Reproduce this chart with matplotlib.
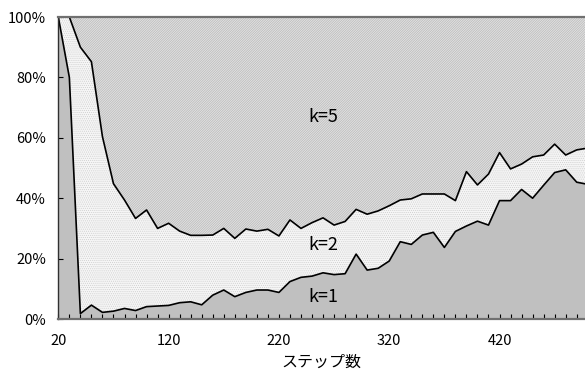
import matplotlib.pyplot as plt
import numpy as np
from matplotlib.ticker import MultipleLocator, PercentFormatter

plt.rcParams['font.family'] = ['Noto Sans CJK JP', 'DejaVu Sans']

# share of each k per step (%)
steps = list(range(20, 501, 10))
k1 = [100, 80, 1.8, 4.6, 2.2, 2.6, 3.5, 2.8, 4.1, 4.3,
      4.5, 5.4, 5.7, 4.7, 7.9, 9.6, 7.4, 8.8, 9.6, 9.6,
      8.8, 12.4, 13.8, 14.2, 15.3, 14.7, 15.0, 21.5, 16.2, 16.8,
      19.2, 25.6, 24.7, 27.8, 28.7, 23.7, 29.0, 30.8, 32.4, 31.1,
      39.2, 39.2, 42.9, 40.0, 44.3, 48.5, 49.4, 45.3, 44.6]
k2 = [0, 20, 88.2, 80.6, 58.2, 42.2, 35.9, 30.5, 32.0, 25.7,
      27.2, 23.7, 22.0, 23.0, 19.9, 20.4, 19.3, 21.0, 19.5, 20.1,
      18.7, 20.4, 16.2, 17.7, 18.2, 16.4, 17.3, 14.8, 18.5, 19.0,
      18.3, 13.8, 15.1, 13.6, 12.7, 17.7, 10.2, 18.0, 12.0, 16.9,
      15.9, 10.5, 8.4, 13.7, 10.0, 9.4, 4.9, 10.7, 12.0]
k5 = [0, 0, 10.0, 14.8, 39.6, 55.2, 60.6, 66.7, 63.9, 70.0,
      68.3, 70.9, 72.3, 72.3, 72.2, 70.0, 73.3, 70.2, 70.9, 70.3,
      72.5, 67.2, 70.0, 68.1, 66.5, 68.9, 67.7, 63.7, 65.3, 64.2,
      62.5, 60.6, 60.2, 58.6, 58.6, 58.6, 60.8, 51.2, 55.6, 52.0,
      44.9, 50.3, 48.7, 46.3, 45.7, 42.1, 45.7, 44.0, 43.4]
xticks = [20, 120, 220, 320, 420]

x = np.array(steps)
c1 = np.array(k1)
c2 = c1 + np.array(k2)
c5 = c2 + np.array(k5)

fig = plt.figure(figsize=(5.85, 3.79), dpi=100)
ax = fig.add_axes((0.0997, 0.1583, 0.9003, 0.7968))

# base fills
ax.fill_between(x, 0, c1, facecolor='#c0c0c0', linewidth=0)
ax.fill_between(x, c1, c2, facecolor='#f6f6f6', linewidth=0)
ax.fill_between(x, c2, c5, facecolor='#e2e2e2', linewidth=0)
# textures
plt.rcParams['hatch.linewidth'] = 0.5
ax.fill_between(x, c1, c2, facecolor='none', edgecolor='#d0d0d0',
                hatch='........', linewidth=0)
ax.fill_between(x, c2, c5, facecolor='none', edgecolor='#b8b8b8',
                hatch='/' * 14, linewidth=0)

ax.plot(x, c1, color='black', linewidth=1.2)
ax.plot(x, c2, color='black', linewidth=1.2)

ax.set_xlim(20, 497.5)
ax.set_ylim(0, 100)

ax.set_xticks(xticks)
ax.xaxis.set_minor_locator(MultipleLocator(10))
ax.yaxis.set_major_locator(MultipleLocator(20))
ax.yaxis.set_major_formatter(PercentFormatter(decimals=0))

ax.tick_params(axis='both', which='both', direction='in', color='black',
               width=0.8)
ax.tick_params(axis='both', which='major', length=3.5, labelsize=10.5)
ax.tick_params(axis='x', which='minor', length=3.5)
ax.tick_params(axis='x', which='major', pad=11)
ax.tick_params(axis='y', which='major', pad=9)

for side in ['top', 'bottom']:
    ax.spines[side].set_color('#707070')
    ax.spines[side].set_linewidth(1.6)
ax.spines['left'].set_color('#303030')
ax.spines['left'].set_linewidth(1.0)
ax.spines['right'].set_visible(False)

ax.text(260, 66.8, 'k=5', ha='center', va='center', fontsize=13)
ax.text(260, 24.5, 'k=2', ha='center', va='center', fontsize=13)
ax.text(260, 7.3, 'k=1', ha='center', va='center', fontsize=13)

ax.set_xlabel('ステップ数', fontsize=11.5, labelpad=4)

fig.savefig('out.png', dpi=100)
